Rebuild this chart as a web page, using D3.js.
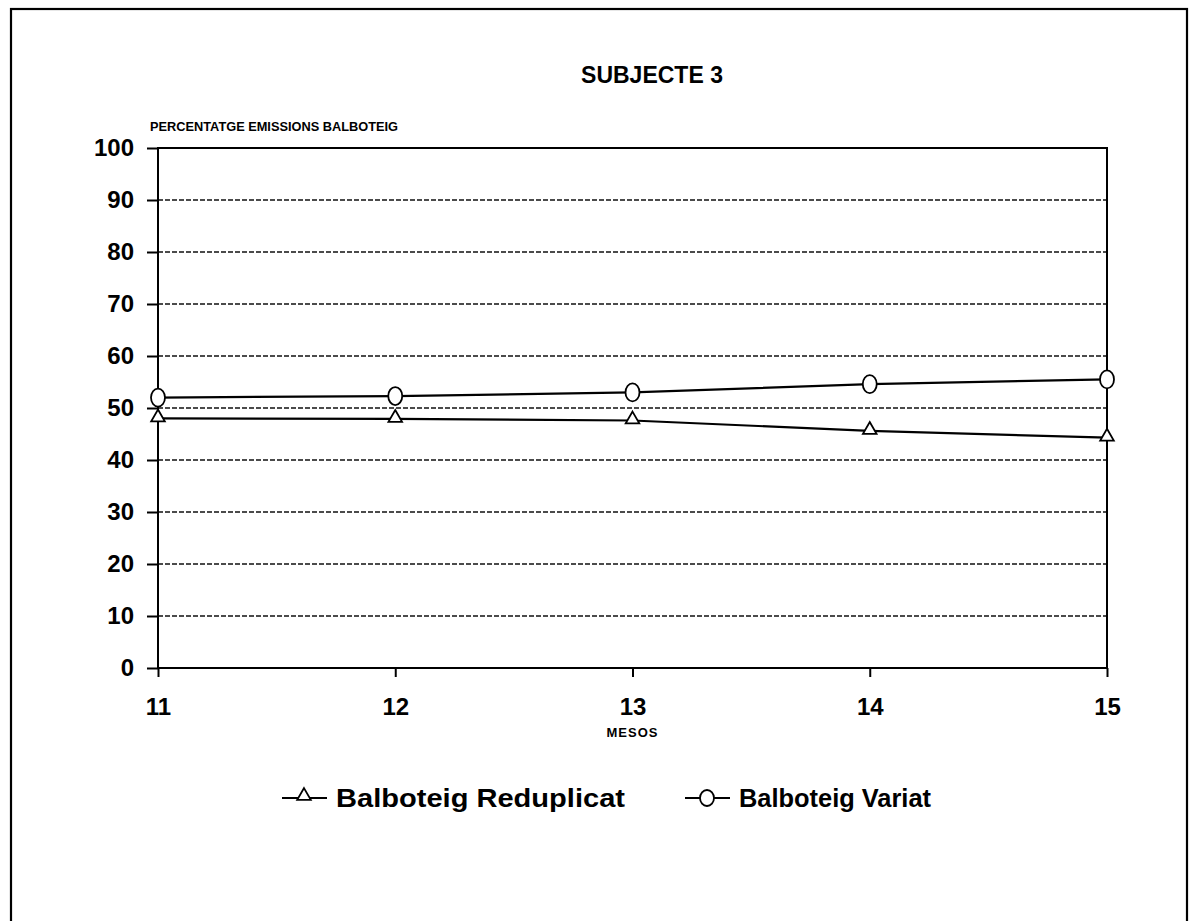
<!DOCTYPE html>
<html><head><meta charset="utf-8">
<script src="https://cdn.jsdelivr.net/npm/d3@7"></script>
<style>html,body{margin:0;padding:0;background:#fff;}svg{display:block;}</style>
</head><body>
<script>
const months = [11, 12, 13, 14, 15];
const reduplicat = [48.0, 47.9, 47.6, 45.6, 44.3];
const variat = [52.0, 52.3, 53.0, 54.6, 55.5];
const yTicks = [0, 10, 20, 30, 40, 50, 60, 70, 80, 90, 100];
const seriesNames = ["Balboteig Reduplicat", "Balboteig Variat"];
const title = "SUBJECTE 3";
const yTitle = "PERCENTATGE EMISSIONS BALBOTEIG";
const xTitle = "MESOS";

const W = 1189, H = 921;
const svg = d3.select("body").append("svg").attr("width", W).attr("height", H);
const FONT = "'Liberation Sans', Arial, Helvetica, sans-serif";

// outer frame
svg.append("rect").attr("x", 11).attr("y", 9).attr("width", 1176).attr("height", 930)
  .attr("fill", "none").attr("stroke", "#000").attr("stroke-width", 2.2);

const L = 158, R = 1107, T = 148, B = 668;
const x = d3.scalePoint().domain(months).range([L, R]);
const y = d3.scaleLinear().domain([0, 100]).range([B, T]);

// gridlines
svg.append("g").selectAll("line").data(yTicks.filter(d => d > 0 && d < 100)).join("line")
  .attr("x1", L).attr("x2", R).attr("y1", d => y(d)).attr("y2", d => y(d))
  .attr("stroke", "#111").attr("stroke-width", 1.3).attr("stroke-dasharray", "5,2");

// frame
svg.append("rect").attr("x", L).attr("y", T).attr("width", R - L).attr("height", B - T)
  .attr("fill", "none").attr("stroke", "#000").attr("stroke-width", 2);

// y axis
const yAxis = d3.axisLeft(y).tickValues(yTicks).tickSize(11).tickPadding(13);
const gy = svg.append("g").attr("transform", `translate(${L},0)`).call(yAxis);
gy.select(".domain").remove();
gy.selectAll(".tick line").attr("stroke", "#000").attr("stroke-width", 2);
gy.selectAll(".tick text").attr("font-family", FONT).attr("font-weight", "bold")
  .attr("font-size", 24).attr("fill", "#000");

// x axis
const xAxis = d3.axisBottom(x).tickSize(9).tickPadding(21);
const gx = svg.append("g").attr("transform", `translate(0,${B})`).call(xAxis);
gx.select(".domain").remove();
gx.selectAll(".tick line").attr("stroke", "#000").attr("stroke-width", 2);
gx.selectAll(".tick text").attr("font-family", FONT).attr("font-weight", "bold")
  .attr("font-size", 24).attr("fill", "#000");

// titles
svg.append("text").attr("x", 652).attr("y", 83).attr("text-anchor", "middle")
  .attr("font-family", FONT).attr("font-weight", "bold").attr("font-size", 23).text(title);
svg.append("text").attr("x", 150).attr("y", 131)
  .attr("font-family", FONT).attr("font-weight", "bold").attr("font-size", 12)
  .attr("textLength", 248).attr("lengthAdjust", "spacingAndGlyphs").text(yTitle);
svg.append("text").attr("x", x(13)).attr("y", 737).attr("text-anchor", "middle")
  .attr("font-family", FONT).attr("font-weight", "bold").attr("font-size", 13)
  .attr("letter-spacing", 1).text(xTitle);

// lines
const line = d3.line().x((d, i) => x(months[i])).y(d => y(d));
svg.append("path").datum(reduplicat).attr("d", line).attr("fill", "none")
  .attr("stroke", "#000").attr("stroke-width", 2.2);
svg.append("path").datum(variat).attr("d", line).attr("fill", "none")
  .attr("stroke", "#000").attr("stroke-width", 2.2);

const tri = d3.symbol().type(d3.symbolTriangle).size(80);
svg.append("g").selectAll("path").data(reduplicat).join("path")
  .attr("transform", (d, i) => `translate(${x(months[i])},${y(d) - 1})`)
  .attr("d", tri).attr("fill", "#fff").attr("stroke", "#000").attr("stroke-width", 1.8);
svg.append("g").selectAll("ellipse").data(variat).join("ellipse")
  .attr("cx", (d, i) => x(months[i])).attr("cy", d => y(d))
  .attr("rx", 7).attr("ry", 9).attr("fill", "#fff").attr("stroke", "#000").attr("stroke-width", 1.8);

// legend
const LY = 798;
const leg = [
  {name: seriesNames[0], x0: 282, type: "tri", tx: 336, tl: 289},
  {name: seriesNames[1], x0: 685, type: "circ", tx: 739, tl: 192}
];
leg.forEach(l => {
  svg.append("line").attr("x1", l.x0).attr("x2", l.x0 + 45).attr("y1", LY).attr("y2", LY)
    .attr("stroke", "#000").attr("stroke-width", 2.2);
  if (l.type === "tri") {
    svg.append("path").attr("transform", `translate(${l.x0 + 22},${LY - 2})`)
      .attr("d", tri).attr("fill", "#fff").attr("stroke", "#000").attr("stroke-width", 1.8);
  } else {
    svg.append("ellipse").attr("cx", l.x0 + 22).attr("cy", LY).attr("rx", 7).attr("ry", 8)
      .attr("fill", "#fff").attr("stroke", "#000").attr("stroke-width", 1.8);
  }
  svg.append("text").attr("x", l.tx).attr("y", LY + 9)
    .attr("font-family", FONT).attr("font-weight", "bold").attr("font-size", 26)
    .attr("textLength", l.tl).attr("lengthAdjust", "spacingAndGlyphs").text(l.name);
});
</script>
</body></html>
